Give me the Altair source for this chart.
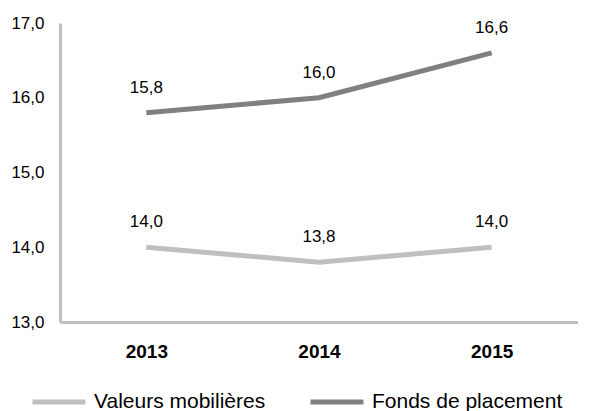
import altair as alt
import pandas as pd

years = ["2013", "2014", "2015"]
valeurs = [14.0, 13.8, 14.0]
fonds = [15.8, 16.0, 16.6]
series = ["Valeurs mobilières", "Fonds de placement"]

rows = []
for s, vals in zip(series, [valeurs, fonds]):
    for y, v in zip(years, vals):
        rows.append({"year": y, "value": v, "series": s})
df = pd.DataFrame(rows)

FONT = "Liberation Sans"
color = alt.Color("series:N", scale=alt.Scale(domain=series, range=["#BFBFBF", "#808080"]),
                  legend=alt.Legend(title=None, orient="none", legendX=-30, legendY=350,
                                    direction="horizontal", symbolType="stroke",
                                    symbolStrokeWidth=5, symbolSize=2800,
                                    labelFontSize=21, labelFont=FONT, labelColor="#000000",
                                    labelOffset=6, columnPadding=34, labelLimit=300,
                                    padding=0))

x = alt.X("year:N", sort=years, title=None,
          scale=alt.Scale(type="point", padding=0.5),
          axis=alt.Axis(labelAngle=0, labelFontSize=19, labelFontWeight="bold", labelFont=FONT,
                        labelColor="#000000", ticks=False, domainColor="#BFBFBF", domainWidth=3,
                        labelPadding=20))
y = alt.Y("value:Q", title=None, scale=alt.Scale(domain=[13, 17], nice=False, zero=False),
          axis=alt.Axis(values=[13, 14, 15, 16, 17], grid=False, ticks=False,
                        domainColor="#BFBFBF", domainWidth=3, labelFontSize=17, labelFont=FONT,
                        labelColor="#000000", labelPadding=16,
                        labelExpr="replace(format(datum.value, '.1f'), '.', ',')"))

base = alt.Chart(df)
lines = base.mark_line(strokeWidth=5).encode(x=x, y=y, color=color)
labels = base.transform_calculate(
    lab="replace(format(datum.value, '.1f'), '.', ',')"
).mark_text(dy=-25, fontSize=17, font=FONT, color="#000000").encode(x=x, y=y, text="lab:N")

chart = (lines + labels).properties(
    width=518, height=299,
    padding={"left": 2, "top": 6, "right": 0, "bottom": 0},
).configure_view(stroke=None)
chart.save("out.html", embed_options={"renderer": "svg", "actions": False})
